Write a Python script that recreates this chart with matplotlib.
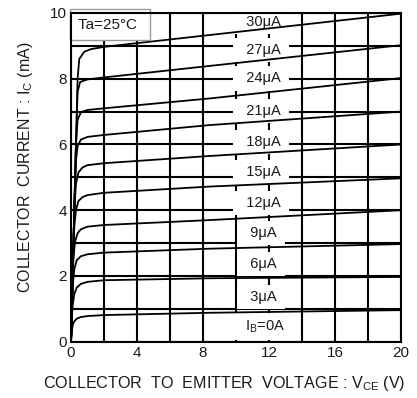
import numpy as np
import matplotlib.pyplot as plt

plt.rcParams['font.family'] = ['Liberation Sans', 'DejaVu Sans']
plt.rcParams['mathtext.fontset'] = 'custom'
plt.rcParams['mathtext.rm'] = 'Liberation Sans'

# Ic-Vce curves, one per base current
v_30 = [0, 0.1, 0.2, 0.3, 0.4, 0.5, 0.8, 1.2, 2, 8.4, 20]
i_30 = [0, 2.0, 4.0, 6.0, 8.0, 8.6, 8.82, 8.9, 8.97, 9.33, 9.98]
v_27 = [0, 0.1, 0.2, 0.3, 0.4, 0.55, 1.0, 2, 8.4, 20]
i_27 = [0, 2.0, 4.0, 6.0, 7.6, 7.9, 7.98, 8.04, 8.39, 9.02]
v_24 = [0, 0.1, 0.2, 0.3, 0.4, 0.6, 1.0, 2, 8.4, 20]
i_24 = [0, 2.0, 4.0, 6.0, 6.75, 6.98, 7.05, 7.10, 7.40, 8.02]
v_21 = [0, 0.1, 0.2, 0.3, 0.4, 0.6, 1.0, 2, 8.4, 20]
i_21 = [0, 2.0, 4.0, 5.5, 5.95, 6.15, 6.23, 6.29, 6.59, 7.0]
v_18 = [0, 0.1, 0.2, 0.3, 0.45, 0.7, 1.0, 2, 8.4, 20]
i_18 = [0, 2.0, 4.0, 4.8, 5.15, 5.3, 5.37, 5.43, 5.65, 6.0]
v_15 = [0, 0.1, 0.2, 0.3, 0.45, 0.7, 1.0, 2, 8.4, 20]
i_15 = [0, 2.0, 3.5, 4.0, 4.28, 4.4, 4.46, 4.53, 4.72, 4.97]
v_12 = [0, 0.08, 0.15, 0.25, 0.4, 0.6, 1.0, 2, 8.4, 20]
i_12 = [0, 1.6, 2.6, 3.05, 3.3, 3.42, 3.5, 3.55, 3.70, 4.0]
v_9 = [0, 0.07, 0.12, 0.2, 0.35, 0.6, 1.0, 2, 8.4, 20]
i_9 = [0, 1.2, 1.8, 2.2, 2.48, 2.6, 2.66, 2.71, 2.83, 2.97]
v_6 = [0, 0.05, 0.1, 0.2, 0.35, 0.6, 1.0, 2, 8.4, 20]
i_6 = [0, 0.7, 1.1, 1.45, 1.65, 1.76, 1.82, 1.87, 1.93, 1.97]
v_3 = [0, 0.05, 0.1, 0.2, 0.35, 0.6, 1.0, 2, 8.4, 20]
i_3 = [0, 0.3, 0.5, 0.62, 0.7, 0.75, 0.78, 0.81, 0.88, 0.96]

curves = [(v_30, i_30), (v_27, i_27), (v_24, i_24), (v_21, i_21), (v_18, i_18),
          (v_15, i_15), (v_12, i_12), (v_9, i_9), (v_6, i_6), (v_3, i_3)]

labels = ['30μA', '27μA', '24μA', '21μA', '18μA', '15μA', '12μA', '9μA',
          '6μA', '3μA', r'I$_\mathrm{B}$=0A']
label_y = [9.74, 8.87, 8.01, 7.02, 6.08, 5.15, 4.22, 3.31, 2.36, 1.37, 0.46]
label_x = 11.65

xticks = [0, 4, 8, 12, 16, 20]
yticks = [0, 2, 4, 6, 8, 10]

fig = plt.figure(figsize=(4.17, 3.98), dpi=100)
ax = fig.add_axes([71 / 417, 56.3 / 398, 330 / 417, 328.7 / 398])

for v, i in curves:
    ax.plot(v, i, color='black', lw=1.3, zorder=4, solid_joinstyle='round')

# white boxes behind the labels hide the grid, the curves run over them
for t, y in zip(labels, label_y):
    ax.text(label_x - 0.15, y, '  ' + t + ' ', ha='center', va='center', fontsize=10.5,
            color='#1a1a1a', zorder=3,
            bbox=dict(boxstyle='square,pad=0.35', fc='white', ec='none'))

ax.text(0.45, 9.64, 'Ta=25°C ', ha='left', va='center', fontsize=11, color='#1a1a1a',
        zorder=5, bbox=dict(boxstyle='square,pad=0.55', fc='white', ec='#999999', lw=1))

ax.set_xlim(0, 20)
ax.set_ylim(0, 10)
ax.set_xticks(xticks)
ax.set_yticks(yticks)
ax.set_xticks(np.arange(0, 21, 2), minor=True)
ax.set_yticks(np.arange(0, 11, 1), minor=True)
ax.grid(which='both', color='black', lw=1.5, zorder=1)
ax.set_axisbelow(True)
ax.tick_params(which='both', length=0, labelsize=11, labelcolor='#1a1a1a', pad=3)
for s in ax.spines.values():
    s.set_linewidth(1.5)
    s.set_zorder(6)

fig.text(0.538, 0.036, r'COLLECTOR  TO  EMITTER  VOLTAGE : V$_\mathrm{CE}$ (V)',
         ha='center', va='center', fontsize=11.6, color='#1a1a1a')
fig.text(0.062, 0.58, r'COLLECTOR  CURRENT : I$_\mathrm{C}$ (mA)', rotation=90,
         ha='center', va='center', fontsize=11.5, color='#1a1a1a')

fig.savefig('out.png', dpi=100)
